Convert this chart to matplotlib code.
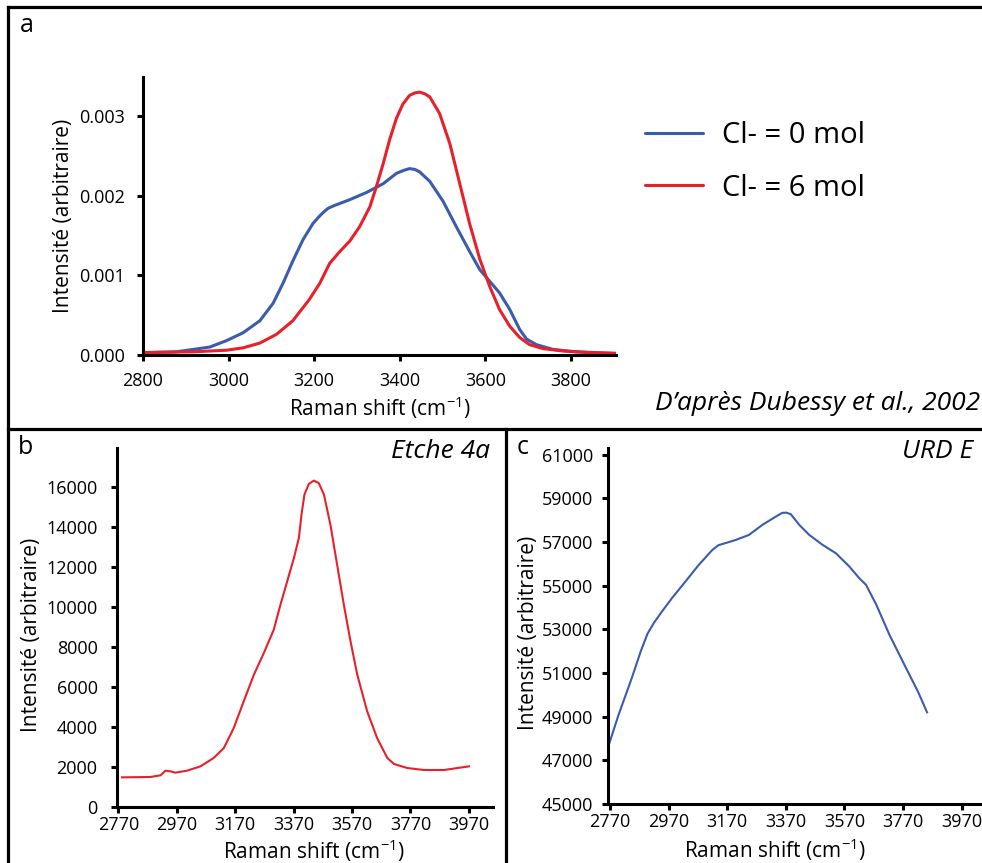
import matplotlib
matplotlib.use('Agg')
import matplotlib.pyplot as plt
from matplotlib.lines import Line2D

plt.rcParams['font.family'] = ['Open Sans', 'DejaVu Sans']
plt.rcParams['mathtext.fontset'] = 'custom'
plt.rcParams['mathtext.rm'] = 'Open Sans'
plt.rcParams['mathtext.it'] = 'Open Sans:italic'

# ---------------- data ----------------
# panel a (after Dubessy et al., 2002)
a_shift_cl0 = [2800, 2878, 2917, 2956, 2995, 3034, 3073, 3104, 3127, 3150, 3174, 3197,
               3210, 3221, 3232, 3244, 3283, 3322, 3361, 3392, 3410, 3423, 3435, 3446,
               3470, 3501, 3532, 3563, 3587, 3614, 3633, 3657, 3680, 3696, 3719, 3758,
               3812, 3905]
a_int_cl0 = [0.00003, 0.00004, 0.00007, 0.0001, 0.00018, 0.00028, 0.00043, 0.00065,
             0.0009, 0.00118, 0.00145, 0.00165, 0.00173, 0.00179, 0.00184, 0.00187,
             0.00195, 0.00204, 0.00215, 0.00228, 0.00232, 0.00234, 0.00233, 0.0023,
             0.00218, 0.00193, 0.00161, 0.0013, 0.00107, 0.0009, 0.00078, 0.00057,
             0.00032, 0.0002, 0.00013, 0.00007, 0.00004, 0.00002]
a_shift_cl6 = [2800, 2917, 2995, 3034, 3073, 3112, 3150, 3189, 3213, 3236, 3260, 3283,
               3306, 3330, 3345, 3361, 3376, 3392, 3407, 3423, 3435, 3446, 3458, 3470,
               3493, 3517, 3540, 3563, 3587, 3610, 3633, 3657, 3680, 3703, 3735, 3781,
               3844, 3905]
a_int_cl6 = [0.00003, 0.00004, 0.00006, 0.00009, 0.00015, 0.00026, 0.00043, 0.0007,
             0.0009, 0.00115, 0.0013, 0.00143, 0.00161, 0.00186, 0.00211, 0.0024,
             0.0027, 0.00297, 0.00315, 0.00326, 0.00329, 0.0033, 0.00328, 0.00324,
             0.00303, 0.00265, 0.00215, 0.00165, 0.0012, 0.00086, 0.00057, 0.00036,
             0.00022, 0.00013, 0.00008, 0.00005, 0.00003, 0.00002]
a_xticks = [2800, 3000, 3200, 3400, 3600, 3800]
a_yticks = [0.000, 0.001, 0.002, 0.003]
a_labels = ['Cl- = 0 mol', 'Cl- = 6 mol']

# panel b (Etche 4a)
b_shift = [2782, 2879, 2914, 2931, 2948, 2965, 3005, 3051, 3096, 3131, 3165, 3199,
           3234, 3268, 3302, 3325, 3348, 3371, 3388, 3397, 3407, 3422, 3439, 3456,
           3474, 3496, 3519, 3542, 3565, 3588, 3622, 3656, 3691, 3714, 3759, 3816,
           3885, 3971]
b_int = [1483, 1500, 1583, 1817, 1783, 1717, 1817, 2033, 2450, 2950, 3950, 5283,
         6617, 7700, 8867, 10117, 11283, 12450, 13450, 14617, 15617, 16150, 16317,
         16200, 15617, 14117, 12117, 10117, 8283, 6617, 4783, 3450, 2450, 2150, 1950,
         1850, 1850, 2033]
b_xticks = [2770, 2970, 3170, 3370, 3570, 3770, 3970]
b_yticks = [0, 2000, 4000, 6000, 8000, 10000, 12000, 14000, 16000]

# panel c (URD E)
c_shift = [2768, 2799, 2844, 2875, 2898, 2920, 2947, 2981, 3027, 3073, 3119, 3140,
           3165, 3199, 3244, 3290, 3336, 3358, 3372, 3387, 3416, 3450, 3496, 3541,
           3587, 3620, 3644, 3679, 3724, 3781, 3821, 3852]
c_int = [47800, 49080, 50760, 52000, 52800, 53300, 53810, 54420, 55180, 55950, 56630,
         56850, 56950, 57090, 57320, 57780, 58160, 58330, 58340, 58270, 57780, 57320,
         56860, 56480, 55870, 55350, 55030, 54120, 52740, 51210, 50150, 49200]
c_xticks = [2770, 2970, 3170, 3370, 3570, 3770, 3970]
c_yticks = [45000, 47000, 49000, 51000, 53000, 55000, 57000, 59000, 61000]

BLUE = '#3a5cad'
RED = '#e8202a'
W, H = 982, 863

fig = plt.figure(figsize=(W / 100, H / 100), dpi=100)


def fr(x0, y0, x1, y1):
    # pixel box -> figure fraction rect
    return [x0 / W, 1 - y1 / H, (x1 - x0) / W, (y1 - y0) / H]


def style(ax, fs, xpad, ypad):
    for s in ['top', 'right']:
        ax.spines[s].set_visible(False)
    for s in ['left', 'bottom']:
        ax.spines[s].set_linewidth(2.2)
        ax.spines[s].set_color('black')
    ax.tick_params(direction='out', length=4, width=2.2, labelsize=fs, colors='black')
    ax.tick_params(axis='x', pad=xpad)
    ax.tick_params(axis='y', pad=ypad)


ylab = 'Intensité (arbitraire)'
xlab = 'Raman shift (cm$^{-1}$)'

# ---- panel a ----
axa = fig.add_axes(fr(143, 77, 616, 355))
l0, = axa.plot(a_shift_cl0, a_int_cl0, color=BLUE, lw=2.2, solid_joinstyle='round',
               solid_capstyle='round')
l6, = axa.plot(a_shift_cl6, a_int_cl6, color=RED, lw=2.2, solid_joinstyle='round',
               solid_capstyle='round')
axa.set_xlim(2800, 3905)
axa.set_ylim(0, 0.00349)
axa.set_xticks(a_xticks)
axa.set_yticks(a_yticks)
axa.set_yticklabels([f'{v:.3f}' for v in a_yticks])
style(axa, 13, 8.5, 9)
axa.set_xlabel(xlab, fontsize=15)
axa.set_ylabel(ylab, fontsize=15)
axa.xaxis.set_label_coords(0.5, -0.14)
axa.yaxis.set_label_coords(-0.145, 0.5)

fig.legend([l0, l6], a_labels, loc='center left', bbox_to_anchor=(645 / W, 1 - 162 / H),
           frameon=False, fontsize=21, handlelength=2.0, handletextpad=0.65,
           labelspacing=0.8, borderpad=0, borderaxespad=0)

fig.text(980 / W, 1 - 403 / H, 'D\u2019après Dubessy et al., 2002', fontsize=19,
         style='italic', ha='right', va='center')

# ---- panel b ----
axb = fig.add_axes(fr(117, 448, 493, 807))
axb.plot(b_shift, b_int, color=RED, lw=1.5, solid_joinstyle='round')
axb.set_xlim(2765, 4053)
axb.set_ylim(0, 17950)
axb.set_xticks(b_xticks)
axb.set_yticks(b_yticks)
style(axb, 13, 2.5, 10)
axb.set_xlabel(xlab, fontsize=15)
axb.set_ylabel(ylab, fontsize=15)
axb.xaxis.set_label_coords(0.524, -0.085)
axb.yaxis.set_label_coords(-0.2, 0.48)
fig.text(490 / W, 1 - 451 / H, 'Etche 4a', fontsize=19, style='italic',
         ha='right', va='center')

# ---- panel c ----
axc = fig.add_axes(fr(608, 448, 990, 804))
axc.plot(c_shift, c_int, color=BLUE, lw=1.5, solid_joinstyle='round')
axc.set_xlim(2763, 4067)
axc.set_ylim(45000, 61300)
axc.set_xticks(c_xticks)
axc.set_yticks(c_yticks)
style(axc, 13, 2.5, 6.5)
axc.set_xlabel(xlab, fontsize=15)
axc.set_ylabel(ylab, fontsize=15)
axc.xaxis.set_label_coords(0.437, -0.09)
axc.yaxis.set_label_coords(-0.18, 0.48)
fig.text(973 / W, 1 - 451 / H, 'URD E', fontsize=19, style='italic',
         ha='right', va='center')

# ---- panel letters ----
fig.text(27 / W, 1 - 26 / H, 'a', fontsize=18, ha='center', va='center')
fig.text(25 / W, 1 - 447 / H, 'b', fontsize=18, ha='center', va='center')
fig.text(523 / W, 1 - 447 / H, 'c', fontsize=18, ha='center', va='center')

# ---- frame lines ----
def fline(x0, y0, x1, y1):
    fig.add_artist(Line2D([x0 / W, x1 / W], [1 - y0 / H, 1 - y1 / H], color='black',
                          lw=2.3, transform=fig.transFigure, solid_capstyle='projecting'))


fline(8, 7, 985, 7)
fline(8, 7, 8, 866)
fline(8, 429, 985, 429)
fline(506, 429, 506, 866)

fig.savefig('out.png', dpi=100)
